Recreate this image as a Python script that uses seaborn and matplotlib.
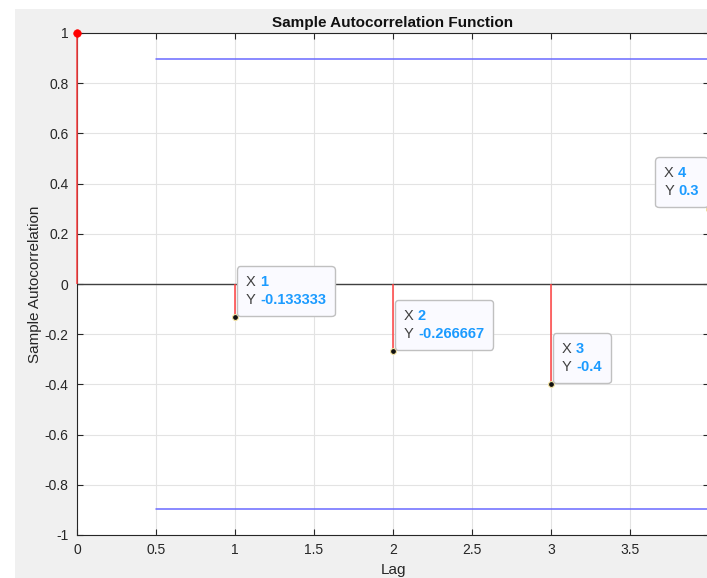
import matplotlib
matplotlib.use("Agg")
import matplotlib.pyplot as plt
from matplotlib.patches import Rectangle
from matplotlib.offsetbox import TextArea, HPacker, VPacker, AnnotationBbox
import numpy as np
import pandas as pd
import seaborn as sns

# Sample autocorrelation values
lags = [0, 1, 2, 3, 4]
acf = [1.0, -0.133333, -0.266667, -0.4, 0.3]
conf_bound = 0.894427
tip_lags = [1, 2, 3, 4]
tip_values = ["-0.133333", "-0.266667", "-0.4", "0.3"]
x_ticks = [0, 0.5, 1, 1.5, 2, 2.5, 3, 3.5]
y_ticks = [-1, -0.8, -0.6, -0.4, -0.2, 0, 0.2, 0.4, 0.6, 0.8, 1]

sns.set_style("ticks")
plt.rcParams["font.family"] = ["Liberation Sans", "DejaVu Sans"]

fig = plt.figure(figsize=(7.07, 5.78), dpi=100, facecolor="white")
# grey figure panel
fig.patches.append(Rectangle((15 / 707, 0), 1, 1 - 9 / 578, transform=fig.transFigure,
                             facecolor="#f0f0f0", edgecolor="none", linewidth=0,
                             zorder=-10))

W, H = 707, 578
ax = fig.add_axes([77 / W, (H - 535) / H, 632 / W, (535 - 33) / H])
ax.set_zorder(1)
ax.set_facecolor("white")

ax.set_xlim(0, 4)
ax.set_ylim(-1, 1)
ax.set_xticks(x_ticks)
ax.set_xticklabels([f"{t:g}" for t in x_ticks])
ax.set_yticks(y_ticks)
ax.set_yticklabels([f"{t:g}" for t in y_ticks])
ax.grid(True, color="#e3e3e3", linewidth=0.8)
ax.set_axisbelow(True)
ax.tick_params(direction="in", length=4, width=0.8, color="#262626",
               labelsize=10, labelcolor="#262626", top=True, right=True, pad=6)
for side, sp in ax.spines.items():
    sp.set_color("#262626")
    sp.set_linewidth(0.8)

# zero reference line
ax.axhline(0, color="#404040", linewidth=1.0, zorder=2)

df = pd.DataFrame({"Lag": lags, "ACF": acf})

# confidence bounds
bounds = pd.DataFrame({"Lag": [0.5, 4, 0.5, 4],
                       "ACF": [conf_bound, conf_bound, -conf_bound, -conf_bound],
                       "side": ["u", "u", "l", "l"]})
sns.lineplot(data=bounds, x="Lag", y="ACF", units="side", estimator=None,
             color="#6a6aff", linewidth=1.1, ax=ax, zorder=3)

# stems
ax.vlines(df["Lag"], 0, df["ACF"], color="#ff4040", linewidth=1.1, zorder=4,
          clip_on=False)
sns.scatterplot(data=df[df["Lag"] == 0], x="Lag", y="ACF", color="#ff0000",
                s=30, edgecolor="#ff0000", ax=ax, zorder=6, clip_on=False)
tips = df[df["Lag"].isin(tip_lags)]
sns.scatterplot(data=tips, x="Lag", y="ACF", color="#111111", s=18,
                edgecolor="#f3e2a0", linewidth=0.8, ax=ax, zorder=6, clip_on=False)

# data tips
tip_kw = dict(fontsize=10.5)
for lag, val, txt in zip(tip_lags, [acf[l] for l in tip_lags], tip_values):
    row1 = HPacker(children=[TextArea("X", textprops=dict(color="#404040", **tip_kw)),
                             TextArea(f"{lag}", textprops=dict(color="#1b9bff", fontweight="bold", **tip_kw))],
                   align="baseline", pad=0, sep=3)
    row2 = HPacker(children=[TextArea("Y", textprops=dict(color="#404040", **tip_kw)),
                             TextArea(txt, textprops=dict(color="#1b9bff", fontweight="bold", **tip_kw))],
                   align="baseline", pad=0, sep=3)
    box = VPacker(children=[row1, row2], align="left", pad=6.5, sep=3)
    if lag == 4:
        align, off = (1, 0), (-1.0, 1.0)
    else:
        align, off = (0, 0), (1.4, 0.7)
    ab = AnnotationBbox(box, (lag, val), xybox=off, boxcoords="offset points",
                        box_alignment=align, frameon=True, pad=0,
                        bboxprops=dict(boxstyle="round,pad=0,rounding_size=0.25",
                                       facecolor="#fafaff", edgecolor="#c0c0c0",
                                       linewidth=1.0),
                        annotation_clip=False, zorder=8)
    ax.add_artist(ab)

ax.set_title("Sample Autocorrelation Function", fontsize=11, fontweight="bold",
             color="#111111", pad=4)
ax.set_xlabel("Lag", fontsize=11, color="#262626", labelpad=4)
ax.set_ylabel("Sample Autocorrelation", fontsize=11, color="#262626", labelpad=2)

fig.savefig("out.png", dpi=100, facecolor=fig.get_facecolor())
